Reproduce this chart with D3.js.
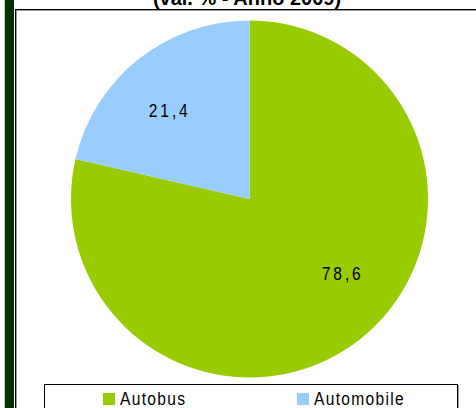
<!DOCTYPE html>
<html>
<head>
<meta charset="utf-8">
<script src="https://cdn.jsdelivr.net/npm/d3@7"></script>
<style>
  body { margin: 0; background: #fff; }
  svg { display: block; }
</style>
</head>
<body>
<svg id="chart" width="476" height="408"></svg>
<script>
// chart data
var categories = ['Autobus', 'Automobile'];
var values = [78.6, 21.4];
var colors = ['#99cc00', '#99ccff'];
var title = '(val. % - Anno 2009)';

var svg = d3.select('#chart')
  , width = 476
  , height = 408
  , cx = 249.5
  , cy = 199
  , radius = 178.5
  , narrow = 0.82; // horizontal squeeze to mimic a narrow face

var data = categories.map(function (c, i) {
  return {name: c, value: values[i], color: colors[i]};
});

// left dark band
svg.append('rect')
  .attr('x', 4).attr('y', 0)
  .attr('width', 10).attr('height', height)
  .attr('fill', '#003300');
svg.append('line')
  .attr('x1', 4.5).attr('x2', 4.5).attr('y1', 0).attr('y2', height)
  .attr('stroke', '#c8d8c8');

// plot frame (runs off the page)
svg.append('rect')
  .attr('x', 16.5).attr('y', 10.5)
  .attr('width', 500).attr('height', 500)
  .attr('fill', 'none').attr('stroke', '#999');
svg.append('rect')
  .attr('x', 15.5).attr('y', 9.5)
  .attr('width', 500).attr('height', 500)
  .attr('fill', 'none').attr('stroke', '#000');

// title, cut at the top as in the source
svg.append('text')
  .attr('x', 247).attr('y', 5)
  .attr('text-anchor', 'middle')
  .style('font', 'bold 20px "Liberation Sans", Arial, sans-serif')
  .text(title);

var pie = d3.pie().sort(null).value(function (d) { return d.value; });
var arc = d3.arc().innerRadius(0).outerRadius(radius);

var g = svg.append('g').attr('transform', 'translate(' + cx + ',' + cy + ')');

g.selectAll('path.slice')
  .data(pie(data))
  .enter().append('path')
  .attr('class', 'slice')
  .attr('d', arc)
  .attr('fill', function (d) { return d.data.color; });

// labels sit a bit before the mid angle, like the spreadsheet's best fit
function labelPos(d) {
  var a = d.startAngle + (d.endAngle - d.startAngle) * 0.454;
  return d3.pointRadial(a, radius * 0.667);
}

g.selectAll('text.lbl')
  .data(pie(data))
  .enter().append('text')
  .attr('class', 'lbl')
  .attr('transform', function (d) { return 'translate(' + labelPos(d) + ') scale(' + narrow + ',1)'; })
  .attr('text-anchor', 'middle')
  .attr('dy', '0.35em')
  .style('font-family', '"Liberation Sans", Arial, sans-serif')
  .style('font-size', '19px')
  .style('letter-spacing', '3.5px')
  .attr('fill', '#000')
  .text(function (d) { return d3.format('.1f')(d.data.value).replace('.', ','); });

// legend box
svg.append('rect')
  .attr('x', 45.5).attr('y', 385.5)
  .attr('width', 413).attr('height', 60)
  .attr('fill', 'none').attr('stroke', '#999');
svg.append('rect')
  .attr('x', 44.5).attr('y', 384.5)
  .attr('width', 413).attr('height', 60)
  .attr('fill', '#fff').attr('stroke', '#000');

var legendX = d3.scalePoint().domain(categories).range([103, 297]);

var item = svg.selectAll('g.legend')
  .data(data)
  .enter().append('g')
  .attr('class', 'legend')
  .attr('transform', function (d) { return 'translate(' + legendX(d.name) + ',393)'; });

item.append('rect')
  .attr('width', 12).attr('height', 12)
  .attr('fill', function (d) { return d.color; });

item.append('text')
  .attr('transform', 'translate(17,12) scale(' + narrow + ',1)')
  .style('font-family', '"Liberation Sans", Arial, sans-serif')
  .style('font-size', '19px')
  .style('letter-spacing', '1.6px')
  .attr('fill', '#000')
  .text(function (d) { return d.name; });
</script>
</body>
</html>
